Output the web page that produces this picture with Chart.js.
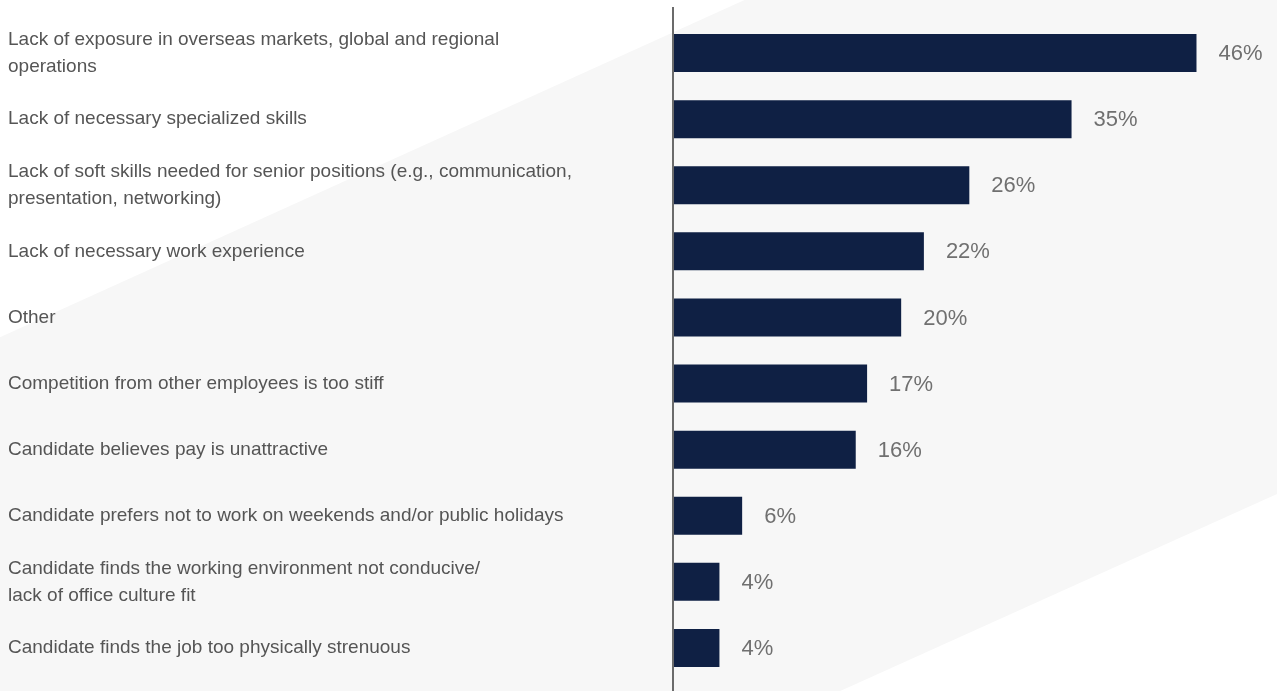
<!DOCTYPE html>
<html>
<head>
<meta charset="utf-8">
<script src="https://cdn.jsdelivr.net/npm/chart.js@4.4.1/dist/chart.umd.min.js"></script>
<style>
  html, body { margin: 0; padding: 0; background: #fff; }
  #wrap { width: 1277px; height: 691px; }
</style>
</head>
<body>
<div id="wrap"><canvas id="reasons" width="1277" height="691"></canvas></div>
<script>
const reasons = [
  ['Lack of exposure in overseas markets, global and regional', 'operations'],
  'Lack of necessary specialized skills',
  ['Lack of soft skills needed for senior positions (e.g., communication,', 'presentation, networking)'],
  'Lack of necessary work experience',
  'Other',
  'Competition from other employees is too stiff',
  'Candidate believes pay is unattractive',
  'Candidate prefers not to work on weekends and/or public holidays',
  ['Candidate finds the working environment not conducive/', 'lack of office culture fit'],
  'Candidate finds the job too physically strenuous'
];
const shares = [46, 35, 26, 22, 20, 17, 16, 6, 4, 4];

// light diagonal band behind the chart
const bandBackground = {
  id: 'bandBackground',
  beforeDraw(chart) {
    const { ctx, width: w, height: h } = chart;
    ctx.save();
    ctx.fillStyle = '#ffffff';
    ctx.fillRect(0, 0, w, h);
    ctx.fillStyle = '#f7f7f7';
    ctx.beginPath();
    ctx.moveTo(0, h * 0.488);
    ctx.lineTo(w * 0.583, 0);
    ctx.lineTo(w, 0);
    ctx.lineTo(w, h * 0.715);
    ctx.lineTo(w * 0.658, h);
    ctx.lineTo(0, h);
    ctx.closePath();
    ctx.fill();
    ctx.restore();
  }
};

// vertical baseline at zero, running the full height
const baseLine = {
  id: 'baseLine',
  afterDatasetsDraw(chart) {
    const { ctx } = chart;
    const x0 = Math.round(chart.scales.x.getPixelForValue(0)) - 1;
    ctx.save();
    ctx.strokeStyle = '#6b6b6b';
    ctx.lineWidth = 2;
    ctx.beginPath();
    ctx.moveTo(x0, 7);
    ctx.lineTo(x0, chart.height);
    ctx.stroke();
    ctx.restore();
  }
};

// percentage next to each bar
const valueLabels = {
  id: 'valueLabels',
  afterDatasetsDraw(chart) {
    const { ctx } = chart;
    const meta = chart.getDatasetMeta(0);
    ctx.save();
    ctx.font = '22px "Liberation Sans", Arial, sans-serif';
    ctx.fillStyle = '#707070';
    ctx.textAlign = 'left';
    ctx.textBaseline = 'middle';
    meta.data.forEach((bar, i) => {
      ctx.fillText(shares[i] + '%', bar.x + 22, bar.y + 1);
    });
    ctx.restore();
  }
};

new Chart(document.getElementById('reasons'), {
  type: 'bar',
  data: {
    labels: reasons,
    datasets: [{
      data: shares,
      backgroundColor: '#0f2044',
      borderWidth: 0,
      categoryPercentage: 1,
      barPercentage: 0.575
    }]
  },
  options: {
    indexAxis: 'y',
    responsive: false,
    animation: false,
    devicePixelRatio: 1,
    layout: { padding: { left: 8, top: 20, bottom: 10, right: 1 } },
    plugins: {
      legend: { display: false },
      tooltip: { enabled: false }
    },
    scales: {
      x: {
        display: false,
        min: 0,
        max: 53
      },
      y: {
        grid: { display: false },
        border: { display: false },
        afterFit(scale) {
          scale.width = 666;
          // multi-line labels shouldn't push the plot area in
          scale.paddingTop = 0;
          scale.paddingBottom = 0;
        },
        ticks: {
          crossAlign: 'far',
          color: '#555555',
          padding: 0,
          font: { family: '"Liberation Sans", Arial, sans-serif', size: 19, lineHeight: 1.42 }
        }
      }
    }
  },
  plugins: [bandBackground, baseLine, valueLabels]
});
</script>
</body>
</html>
